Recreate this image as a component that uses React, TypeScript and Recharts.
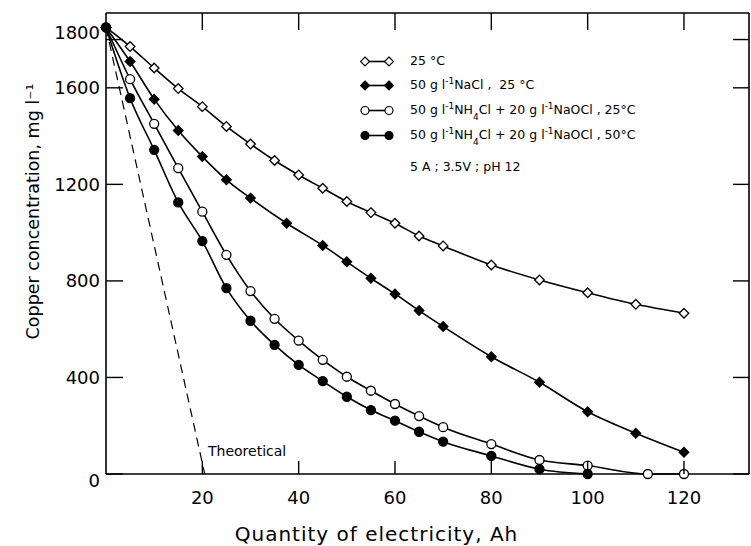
import { LineChart, Line, XAxis, YAxis } from "recharts";

// Quantity of electricity (Ah) and copper concentration (mg/l) per run
const quantity25C = [0, 5, 10, 15, 20, 25, 30, 35, 40, 45, 50, 55, 60, 65, 70, 80, 90, 100, 110, 120];
const copper25C = [1850, 1771, 1682, 1597, 1522, 1440, 1367, 1299, 1239, 1184, 1129, 1083, 1039, 986, 945, 866, 804, 751, 703, 666];

const quantityNaCl = [0, 5, 10, 15, 20, 25, 30, 37.5, 45, 50, 55, 60, 65, 70, 80, 90, 100, 110, 120];
const copperNaCl = [1850, 1709, 1553, 1423, 1315, 1219, 1143, 1039, 947, 879, 811, 746, 677, 611, 486, 380, 258, 169, 90];

const quantityNH4Cl25 = [0, 5, 10, 15, 20, 25, 30, 35, 40, 45, 50, 55, 60, 65, 70, 80, 90, 100, 112.5, 120];
const copperNH4Cl25 = [1850, 1636, 1451, 1267, 1087, 908, 758, 643, 553, 473, 403, 345, 290, 240, 194, 124, 58, 35, 0, 0];

const quantityNH4Cl50 = [0, 5, 10, 15, 20, 25, 30, 35, 40, 45, 50, 55, 60, 65, 70, 80, 90, 100];
const copperNH4Cl50 = [1850, 1557, 1343, 1125, 965, 770, 635, 535, 452, 385, 320, 265, 221, 175, 134, 75, 20, 0];

const quantityTheory = [0, 20.5];
const copperTheory = [1850, 0];

const xTicks = [20, 40, 60, 80, 100, 120];
const yTicks = [0, 400, 800, 1200, 1600, 1800];

const FONT = "'DejaVu Sans', sans-serif";

const toPoints = (xs: number[], ys: number[]) => xs.map((x, i) => ({ x, y: ys[i] }));

const diamond = (filled: boolean) => (p: any) => {
  const { cx, cy, index } = p;
  const s = 4.8;
  return (
    <polygon
      key={`d-${index}`}
      points={`${cx},${cy - s} ${cx + s},${cy} ${cx},${cy + s} ${cx - s},${cy}`}
      fill={filled ? "#000" : "#fff"}
      stroke="#000"
      strokeWidth={1.3}
    />
  );
};

// ticks point into the plot on every side, labels stay outside
const labelShift = (v: number) => (v === 0 ? 6 : v === 1800 ? -7 : 0);
const LeftTick = ({ x, y, payload }: any) => (
  <g>
    <line x1={x} x2={x + 17} y1={y} y2={y} stroke="#000" strokeWidth={1.4} />
    <text x={x - 6} y={y + labelShift(payload.value)} textAnchor="end" dominantBaseline="central" fontSize={18} fontFamily={FONT} fill="#000">
      {payload.value}
    </text>
  </g>
);
const BottomTick = ({ x, y, payload }: any) => (
  <g>
    <line x1={x} x2={x} y1={y} y2={y - 13} stroke="#000" strokeWidth={1.4} />
    <text x={x} y={y + 23} textAnchor="middle" dominantBaseline="central" fontSize={18} fontFamily={FONT} fill="#000">
      {payload.value}
    </text>
  </g>
);
const TopTick = ({ x, y }: any) => <line x1={x} x2={x} y1={y} y2={y + 17} stroke="#000" strokeWidth={1.4} />;
const RightTick = ({ x, y }: any) => <line x1={x} x2={x - 16} y1={y} y2={y} stroke="#000" strokeWidth={1.4} />;

const LegendMark = ({ kind }: { kind: string }) => {
  const fill = kind.startsWith("filled") ? "#000" : "#fff";
  const mark = (cx: number) =>
    kind.endsWith("diamond") ? (
      <polygon points={`${cx},1 ${cx + 4.5},5.5 ${cx},10 ${cx - 4.5},5.5`} fill={fill} stroke="#000" strokeWidth={1.2} />
    ) : (
      <circle cx={cx} cy={5.5} r={4} fill={fill} stroke="#000" strokeWidth={1.2} />
    );
  return (
    <svg width={34} height={11} style={{ position: "absolute", left: 0, top: -5.5 }}>
      <line x1={5} y1={5.5} x2={29} y2={5.5} stroke="#000" strokeWidth={1.6} />
      {mark(5)}
      {mark(29)}
    </svg>
  );
};

const sup = { fontSize: 9, verticalAlign: "5px", lineHeight: 0 } as const;
const sub = { fontSize: 9, verticalAlign: "-6px", lineHeight: 0 } as const;

const legendKinds = ["open-diamond", "filled-diamond", "open-circle", "filled-circle"];
const legendRows = [
  <>25 °C</>,
  <>50 g l<span style={sup}>-1</span>NaCl ,&nbsp; 25 °C</>,
  <>50 g l<span style={sup}>-1</span>NH<span style={sub}>4</span>Cl + 20 g l<span style={sup}>-1</span>NaOCl , 25°C</>,
  <>50 g l<span style={sup}>-1</span>NH<span style={sub}>4</span>Cl + 20 g l<span style={sup}>-1</span>NaOCl , 50°C</>,
];
const legendRowY = [61, 85, 110, 135];

export default function App() {
  const axisLine = { stroke: "#000", strokeWidth: 1.6 };

  return (
    <div style={{ position: "absolute", left: 0, top: 0, width: 751, height: 546, background: "#fff" }}>
      <LineChart width={751} height={546} margin={{ top: 0, right: 0, bottom: 0, left: 0 }}>
        <XAxis
          type="number"
          dataKey="x"
          domain={[0, 133.5]}
          ticks={xTicks}
          interval={0}
          height={72}
          tickSize={0}
          tickMargin={0}
          axisLine={axisLine}
          tickLine={false}
          tick={BottomTick}
          label={{
            value: "Quantity of electricity, Ah",
            position: "center",
            dx: -51,
            dy: 24,
            fill: "#000",
            fontSize: 20,
            letterSpacing: 1,
            fontFamily: FONT,
          }}
        />
        <XAxis
          xAxisId="top"
          orientation="top"
          type="number"
          dataKey="x"
          domain={[0, 133.5]}
          ticks={xTicks}
          interval={0}
          height={13}
          tickSize={0}
          tickMargin={0}
          axisLine={axisLine}
          tickLine={false}
          tick={TopTick}
        />
        <YAxis
          type="number"
          domain={[0, 1910]}
          ticks={yTicks}
          interval={0}
          width={106}
          tickSize={0}
          tickMargin={0}
          axisLine={axisLine}
          tickLine={false}
          tick={LeftTick}
          label={{
            value: "Copper concentration, mg l⁻¹",
            angle: -90,
            position: "center",
            dx: -20,
            dy: -32,
            fill: "#000",
            fontSize: 17.5,
            fontFamily: FONT,
          }}
        />
        <YAxis
          yAxisId="right"
          orientation="right"
          type="number"
          domain={[0, 1910]}
          ticks={yTicks}
          interval={0}
          width={2}
          tickSize={0}
          tickMargin={0}
          axisLine={axisLine}
          tickLine={false}
          tick={RightTick}
        />
        <Line
          xAxisId="top"
          yAxisId="right"
          data={toPoints(quantityTheory, copperTheory)}
          dataKey="y"
          type="linear"
          stroke="#000"
          strokeWidth={1.2}
          strokeDasharray="9 6"
          dot={false}
          isAnimationActive={false}
        />
        <Line
          data={toPoints(quantity25C, copper25C)}
          dataKey="y"
          type="monotone"
          stroke="#000"
          strokeWidth={1.6}
          dot={diamond(false)}
          isAnimationActive={false}
        />
        <Line
          data={toPoints(quantityNaCl, copperNaCl)}
          dataKey="y"
          type="monotone"
          stroke="#000"
          strokeWidth={1.6}
          dot={diamond(true)}
          isAnimationActive={false}
        />
        <Line
          data={toPoints(quantityNH4Cl25, copperNH4Cl25)}
          dataKey="y"
          type="monotone"
          stroke="#000"
          strokeWidth={1.6}
          dot={{ r: 4.5, fill: "#fff", stroke: "#000", strokeWidth: 1.3 }}
          isAnimationActive={false}
        />
        <Line
          data={toPoints(quantityNH4Cl50, copperNH4Cl50)}
          dataKey="y"
          type="monotone"
          stroke="#000"
          strokeWidth={1.6}
          dot={{ r: 4.5, fill: "#000", stroke: "#000", strokeWidth: 1.3 }}
          isAnimationActive={false}
        />
      </LineChart>

      {/* legend and annotation */}
      <div style={{ position: "absolute", left: 0, top: 0, fontFamily: FONT, fontSize: 12.5, color: "#000", pointerEvents: "none" }}>
        {legendRows.map((row, i) => (
          <div key={i} style={{ position: "absolute", left: 360, top: legendRowY[i], whiteSpace: "nowrap" }}>
            <LegendMark kind={legendKinds[i]} />
            <span style={{ position: "absolute", left: 50, top: -9, lineHeight: "18px" }}>{row}</span>
          </div>
        ))}
        <div style={{ position: "absolute", left: 410, top: 158, whiteSpace: "nowrap", lineHeight: "18px" }}>
          5 A ; 3.5V ; pH 12
        </div>
        <div style={{ position: "absolute", left: 208, top: 442, whiteSpace: "nowrap", lineHeight: "18px", fontSize: 14 }}>
          Theoretical
        </div>
      </div>
    </div>
  );
}
